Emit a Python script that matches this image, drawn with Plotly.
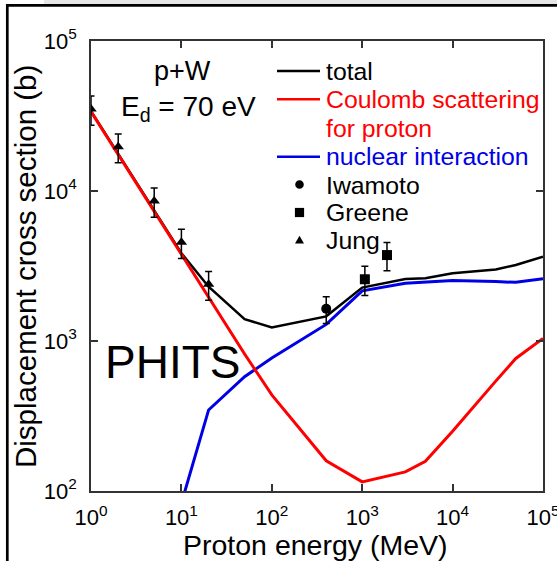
import plotly.graph_objects as go

# ---------------- data ----------------
energy = [1, 2, 5, 10, 20, 50, 100, 400, 1000, 3000, 5000, 10000, 30000, 50000, 100000]
total = [3.40e4, 1.76e4, 7.40e3, 3.85e3, 2.30e3, 1.40e3, 1.23e3, 1.46e3, 2.27e3,
         2.59e3, 2.62e3, 2.83e3, 3.00e3, 3.21e3, 3.65e3]
coulomb = [3.38e4, 1.75e4, 7.30e3, 3.76e3, 1.94e3, 820, 437, 159, 115,
           134, 158, 250, 540, 765, 1040]
nuclear = [None, None, None, 83, 347, 578, 770, 1290, 2160,
           2430, 2460, 2530, 2490, 2460, 2600]

iwamoto_e = [400]
iwamoto_v = [1.64e3]
iwamoto_err = [0.33e3]

greene_e = [1070, 1880]
greene_v = [2.58e3, 3.74e3]
greene_err = [0.57e3, 0.80e3]

jung_e = [1, 2, 5, 10, 20]
jung_v = [3.52e4, 1.97e4, 8.58e3, 4.55e3, 2.39e3]
jung_err = [0.78e4, 0.43e4, 1.90e3, 1.00e3, 0.52e3]

x_tickvals = [1, 10, 100, 1000, 10000, 100000]
x_ticktext = ["10<sup>0</sup>", "10<sup>1</sup>", "10<sup>2</sup>",
              "10<sup>3</sup>", "10<sup>4</sup>", "10<sup>5</sup>"]
y_tickvals = [100, 1000, 10000, 100000]
y_ticktext = ["10<sup>2</sup>", "10<sup>3</sup>", "10<sup>4</sup>", "10<sup>5</sup>"]

legend_labels = ["total", "Coulomb scattering", "for proton", "nuclear interaction",
                 "Iwamoto", "Greene", "Jung"]

# ---------------- layout geometry ----------------
W, H = 557, 561
ML, MR, MT, MB = 91, 14, 41, 70
PW, PH = W - ML - MR, H - MT - MB

def X(px):
    return (px - ML) / PW

def Y(py):
    return 1 - (py - MT) / PH

RED = "#ff0000"
BLUE = "#0000e6"
BLACK = "#000000"
AXC = "#333333"
FONT = "Liberation Sans, Arial, Helvetica, sans-serif"

fig = go.Figure()

fig.add_trace(go.Scatter(x=energy, y=nuclear, mode="lines",
                         line=dict(color=BLUE, width=3), connectgaps=False,
                         showlegend=False))
fig.add_trace(go.Scatter(x=energy, y=total, mode="lines",
                         line=dict(color=BLACK, width=2.5), showlegend=False))
fig.add_trace(go.Scatter(x=energy, y=coulomb, mode="lines",
                         line=dict(color=RED, width=3), showlegend=False))

err_style = dict(type="data", color=BLACK, thickness=1.5, width=3.5)
fig.add_trace(go.Scatter(x=iwamoto_e, y=iwamoto_v, mode="markers",
                         marker=dict(symbol="circle", size=10, color=BLACK),
                         error_y=dict(array=iwamoto_err, **err_style), showlegend=False))
fig.add_trace(go.Scatter(x=greene_e, y=greene_v, mode="markers",
                         marker=dict(symbol="square", size=10, color=BLACK),
                         error_y=dict(array=greene_err, **err_style), showlegend=False))
fig.add_trace(go.Scatter(x=jung_e, y=jung_v, mode="markers",
                         marker=dict(symbol="triangle-up", size=10, color=BLACK),
                         error_y=dict(array=jung_err, **err_style), showlegend=False))

axis_common = dict(type="log", showgrid=False, zeroline=False, showline=True,
                   linecolor=AXC, linewidth=1.5, mirror="ticks", ticks="inside",
                   ticklen=7, tickwidth=1.5, tickcolor=AXC,
                   ticklabeloverflow="allow", automargin=False,
                   tickfont=dict(family=FONT, size=22, color=BLACK))

fig.update_xaxes(range=[0, 5], tickvals=x_tickvals, ticktext=x_ticktext,
                 ticklabelstandoff=6, **axis_common)
fig.update_yaxes(range=[2, 5], tickvals=y_tickvals, ticktext=y_ticktext,
                 ticklabelstandoff=8, **axis_common)

annotations = []

def txt(text, px, py, size, color=BLACK, xanchor="center", yanchor="middle", angle=0):
    annotations.append(dict(text=text, x=X(px), y=Y(py), xref="paper", yref="paper",
                            xanchor=xanchor, yanchor=yanchor, showarrow=False,
                            textangle=angle,
                            font=dict(family=FONT, size=size, color=color)))

# axis titles
txt("Proton energy (MeV)", 315, 545, 28.5)
txt("Displacement cross section (b)", 25, 267, 29.5, angle=-90)

# inner labels
txt("p+W", 182, 71, 27)
txt("E<sub>d</sub> = 70 eV", 188, 109, 28)
txt("PHITS", 172, 362, 46)

# legend texts
leg_rows = [71.5, 99.5, 128.3, 156.5, 185, 212.5, 240.5]
leg_colors = [BLACK, RED, RED, BLUE, BLACK, BLACK, BLACK]
for lab, ry, c in zip(legend_labels, leg_rows, leg_colors):
    txt(lab, 324, ry, 24.8, color=c, xanchor="left")

shapes = []
# legend line samples
for ry, c in [(71, BLACK), (99.3, RED), (156.7, BLUE)]:
    shapes.append(dict(type="line", xref="paper", yref="paper",
                       x0=X(277), x1=X(320), y0=Y(ry), y1=Y(ry),
                       line=dict(color=c, width=2.5)))
# legend marker glyphs
mx = X(299.5)
shapes.append(dict(type="circle", xref="paper", yref="paper",
                   xsizemode="pixel", ysizemode="pixel", xanchor=mx, yanchor=Y(184.5),
                   x0=-4.3, x1=4.3, y0=-4.3, y1=4.3,
                   fillcolor=BLACK, line=dict(width=0)))
shapes.append(dict(type="rect", xref="paper", yref="paper",
                   xsizemode="pixel", ysizemode="pixel", xanchor=mx, yanchor=Y(212.5),
                   x0=-4.6, x1=4.6, y0=-4.6, y1=4.6,
                   fillcolor=BLACK, line=dict(width=0)))
shapes.append(dict(type="path", xref="paper", yref="paper",
                   xsizemode="pixel", ysizemode="pixel", xanchor=mx, yanchor=Y(240),
                   path="M-4.5,-3.5 L4.5,-3.5 L0,4.2 Z",
                   fillcolor=BLACK, line=dict(width=0)))

# outer frame of the picture
shapes.append(dict(type="rect", xref="paper", yref="paper",
                   x0=X(44), x1=X(W + 5), y0=Y(0), y1=Y(4),
                   fillcolor="#e6e6e6", line=dict(width=0), layer="below"))
shapes.append(dict(type="line", xref="paper", yref="paper",
                   x0=X(7.3), x1=X(W + 5), y0=Y(5.3), y1=Y(5.3),
                   line=dict(color=BLACK, width=2.7)))
shapes.append(dict(type="line", xref="paper", yref="paper",
                   x0=X(7.3), x1=X(7.3), y0=Y(4), y1=Y(H + 5),
                   line=dict(color=BLACK, width=2.7)))

fig.update_layout(width=W, height=H, autosize=False,
                  margin=dict(l=ML, r=MR, t=MT, b=MB, pad=0),
                  paper_bgcolor="white", plot_bgcolor="white",
                  showlegend=False, annotations=annotations, shapes=shapes,
                  font=dict(family=FONT, color=BLACK))

fig.write_html("out.html",
               config={"displayModeBar": False},
               post_script="document.body.style.margin='0px';"
                           "document.body.style.overflow='hidden';")
